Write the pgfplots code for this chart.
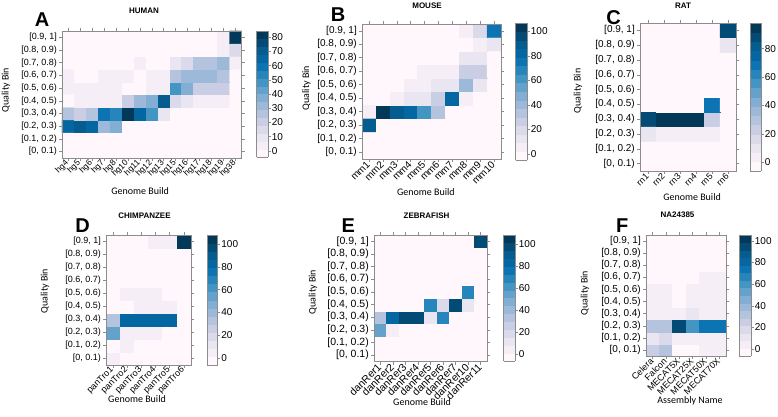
\documentclass[border=0pt]{standalone}
\usepackage{pgfplots}
\pgfplotsset{compat=1.18}
\usepackage{fontspec}
\setmainfont{Liberation Sans}
\newfontfamily\calib{Carlito}
\definecolor{frame}{RGB}{140,140,140}
\pgfplotsset{
  colorbar shift/.style={},
  colormap={pubu}{rgb255=(255,247,251) rgb255=(236,231,242) rgb255=(208,209,230) rgb255=(166,189,219) rgb255=(116,169,207) rgb255=(54,144,192) rgb255=(5,112,176) rgb255=(4,90,141) rgb255=(2,56,88)},
  colormap={pubud}{samples of colormap=(16 of pubu)},
  hm/.style={
    scale only axis, anchor=south west, enlargelimits=false,
    y dir=reverse,
    ymin=-0.5, ymax=9.5, ytick={0,...,9},
    yticklabels={{[0.9, 1]},{[0.8, 0.9)},{[0.7, 0.8)},{[0.6, 0.7)},{[0.5, 0.6)},{[0.4, 0.5)},{[0.3, 0.4)},{[0.2, 0.3)},{[0.1, 0.2)},{[0, 0.1)}},
    tick align=outside, major tick length=3pt,
    axis line style={frame, line width=0.6pt}, tick style={frame, line width=0.5pt},
    xticklabel style={rotate=45, anchor=east, inner sep=1pt},
    yticklabel style={inner sep=2pt},
    label style={font=\calib\fontsize{10}{12}\selectfont},
    ylabel style={anchor=center},
    xlabel style={anchor=center, yshift=1pt},
    colormap name=pubud, colormap access=piecewise constant,
    colorbar,
  },
  cbs/.style n args={5}{colorbar style={at={(parent axis.south east)}, anchor=south west, xshift=#1pt, yshift=#2pt, width=#3pt, height=#4pt, scale only axis, y dir=normal, ytick={#5}, ytick pos=right, yticklabel pos=right, tick align=outside, major tick length=2.5pt, axis line style={frame, line width=0.6pt}, tick style={frame, line width=0.5pt}, yticklabel style={font=\fontsize{10}{12}\selectfont, inner sep=1.2pt}, /pgf/number format/assume math mode=true}},
}
\begin{document}
\begin{tikzpicture}
\useasboundingbox (0,0) rectangle (778pt,417pt);
% ---------------- A: HUMAN   (y: 9 = [0,0.1) ... 0 = [0.9,1])
\begin{axis}[hm, at={(62pt,259pt)}, width=179.5pt, height=127pt,
  xmin=-0.5, xmax=14.5, xtick={0,...,14},
  xticklabels={hg4,hg5,hg6,hg7,hg8,hg10,hg11,hg12,hg13,hg15,hg16,hg17,hg18,hg19,hg38},
  tick label style={font=\fontsize{9}{10}\selectfont},
  xticklabel style={font=\fontsize{8.5}{10}\selectfont},
  xlabel={Genome Build}, ylabel={Quality Bin},
  xlabel style={at={(axis description cs:0.435,-0.268)}},
  ylabel style={at={(axis description cs:-0.312,0.535)}},
  point meta min=-4.4, point meta max=84.4,
  cbs={15}{1}{11.5}{126}{0,10,...,80}]
\addplot[matrix plot, mesh/cols=15, point meta=explicit] table[x=x,y=y,meta=c,row sep=\\]{
x y c\\
0 9 0\\ 1 9 0\\ 2 9 0\\ 3 9 0\\ 4 9 0\\ 5 9 0\\ 6 9 0\\ 7 9 0\\ 8 9 0\\ 9 9 0\\ 10 9 0\\ 11 9 0\\ 12 9 0\\ 13 9 0\\ 14 9 0\\
0 8 0\\ 1 8 0\\ 2 8 0\\ 3 8 0\\ 4 8 0\\ 5 8 0\\ 6 8 0\\ 7 8 0\\ 8 8 0\\ 9 8 0\\ 10 8 0\\ 11 8 0\\ 12 8 0\\ 13 8 0\\ 14 8 0\\
0 7 64\\ 1 7 73\\ 2 7 65\\ 3 7 30\\ 4 7 35\\ 5 7 0\\ 6 7 0\\ 7 7 0\\ 8 7 0\\ 9 7 0\\ 10 7 0\\ 11 7 0\\ 12 7 0\\ 13 7 0\\ 14 7 0\\
0 6 26\\ 1 6 20\\ 2 6 28\\ 3 6 62\\ 4 6 52\\ 5 6 82\\ 6 6 63\\ 7 6 48\\ 8 6 11\\ 9 6 0\\ 10 6 0\\ 11 6 0\\ 12 6 0\\ 13 6 0\\ 14 6 0\\
0 5 1\\ 1 5 3\\ 2 5 3\\ 3 5 3\\ 4 5 3\\ 5 5 20\\ 6 5 31\\ 7 5 37\\ 8 5 70\\ 9 5 15\\ 10 5 9\\ 11 5 5\\ 12 5 5\\ 13 5 5\\ 14 5 0\\
0 4 3\\ 1 4 3\\ 2 4 3\\ 3 4 3\\ 4 4 3\\ 5 4 1\\ 6 4 1\\ 7 4 3\\ 8 4 4\\ 9 4 47\\ 10 4 37\\ 11 4 23\\ 12 4 23\\ 13 4 23\\ 14 4 0\\
0 3 4\\ 1 3 1\\ 2 3 1\\ 3 3 3\\ 4 3 3\\ 5 3 3\\ 6 3 1\\ 7 3 5\\ 8 3 5\\ 9 3 24\\ 10 3 33\\ 11 3 33\\ 12 3 33\\ 13 3 24\\ 14 3 0\\
0 2 0\\ 1 2 0\\ 2 2 0\\ 3 2 0\\ 4 2 0\\ 5 2 0\\ 6 2 3\\ 7 2 0\\ 8 2 0\\ 9 2 9\\ 10 2 13\\ 11 2 24\\ 12 2 24\\ 13 2 29\\ 14 2 2\\
0 1 0\\ 1 1 0\\ 2 1 0\\ 3 1 0\\ 4 1 0\\ 5 1 0\\ 6 1 0\\ 7 1 0\\ 8 1 0\\ 9 1 0\\ 10 1 0\\ 11 1 0\\ 12 1 0\\ 13 1 3\\ 14 1 15\\
0 0 0\\ 1 0 0\\ 2 0 0\\ 3 0 0\\ 4 0 0\\ 5 0 0\\ 6 0 0\\ 7 0 0\\ 8 0 0\\ 9 0 0\\ 10 0 0\\ 11 0 0\\ 12 0 0\\ 13 0 3\\ 14 0 82\\
};
\end{axis}
% ---------------- B: MOUSE
\begin{axis}[hm, at={(362pt,258pt)}, width=139pt, height=135pt,
  xmin=-0.5, xmax=9.5, xtick={0,...,9},
  xticklabels={mm1,mm2,mm3,mm4,mm5,mm6,mm7,mm8,mm9,mm10},
  tick label style={font=\fontsize{10}{12}\selectfont},
  xlabel={Genome Build}, ylabel={Quality Bin},
  xlabel style={at={(axis description cs:0.46,-0.252)}},
  ylabel style={at={(axis description cs:-0.399,0.526)}},
  point meta min=-5.5, point meta max=107,
  cbs={14.5}{-1.5}{11.5}{137.5}{0,20,...,100}]
\addplot[matrix plot, mesh/cols=10, point meta=explicit] table[x=x,y=y,meta=c,row sep=\\]{
x y c\\
0 9 0\\ 1 9 0\\ 2 9 0\\ 3 9 0\\ 4 9 0\\ 5 9 0\\ 6 9 0\\ 7 9 0\\ 8 9 0\\ 9 9 0\\
0 8 0\\ 1 8 0\\ 2 8 0\\ 3 8 0\\ 4 8 0\\ 5 8 0\\ 6 8 0\\ 7 8 0\\ 8 8 0\\ 9 8 0\\
0 7 92\\ 1 7 0\\ 2 7 0\\ 3 7 0\\ 4 7 0\\ 5 7 0\\ 6 7 0\\ 7 7 0\\ 8 7 0\\ 9 7 0\\
0 6 3\\ 1 6 102\\ 2 6 92\\ 3 6 80\\ 4 6 62\\ 5 6 33\\ 6 6 0\\ 7 6 0\\ 8 6 0\\ 9 6 0\\
0 5 0\\ 1 5 0\\ 2 5 3\\ 3 5 13\\ 4 5 13\\ 5 5 27\\ 6 5 80\\ 7 5 3\\ 8 5 0\\ 9 5 0\\
0 4 0\\ 1 4 0\\ 2 4 0\\ 3 4 3\\ 4 4 7\\ 5 4 14\\ 6 4 14\\ 7 4 42\\ 8 4 10\\ 9 4 0\\
0 3 0\\ 1 3 0\\ 2 3 0\\ 3 3 0\\ 4 3 3\\ 5 3 3\\ 6 3 3\\ 7 3 25\\ 8 3 25\\ 9 3 0\\
0 2 0\\ 1 2 0\\ 2 2 0\\ 3 2 0\\ 4 2 0\\ 5 2 0\\ 6 2 0\\ 7 2 13\\ 8 2 13\\ 9 2 0\\
0 1 0\\ 1 1 0\\ 2 1 0\\ 3 1 0\\ 4 1 0\\ 5 1 0\\ 6 1 0\\ 7 1 0\\ 8 1 3\\ 9 1 12\\
0 0 0\\ 1 0 0\\ 2 0 0\\ 3 0 0\\ 4 0 0\\ 5 0 0\\ 6 0 0\\ 7 0 3\\ 8 0 18\\ 9 0 78\\
};
\end{axis}
% ---------------- C: RAT
\begin{axis}[hm, at={(640pt,246pt)}, width=96pt, height=148pt,
  xmin=-0.5, xmax=5.5, xtick={0,...,5},
  xticklabels={rn1,rn2,rn3,rn4,rn5,rn6},
  tick label style={font=\fontsize{10}{12}\selectfont},
  xticklabel style={font=\fontsize{9}{11}\selectfont},
  xlabel={Genome Build}, ylabel={Quality Bin},
  xlabel style={at={(axis description cs:0.542,-0.182)}},
  ylabel style={at={(axis description cs:-0.646,0.541)}},
  point meta min=-6, point meta max=98,
  cbs={14}{0}{11}{148}{0,20,...,80}]
\addplot[matrix plot, mesh/cols=6, point meta=explicit] table[x=x,y=y,meta=c,row sep=\\]{
x y c\\
0 9 0\\ 1 9 0\\ 2 9 0\\ 3 9 0\\ 4 9 0\\ 5 9 0\\
0 8 0\\ 1 8 0\\ 2 8 0\\ 3 8 0\\ 4 8 0\\ 5 8 0\\
0 7 12\\ 1 7 6\\ 2 7 6\\ 3 7 6\\ 4 7 3\\ 5 7 0\\
0 6 86\\ 1 6 97\\ 2 6 97\\ 3 6 97\\ 4 6 25\\ 5 6 0\\
0 5 0\\ 1 5 0\\ 2 5 0\\ 3 5 0\\ 4 5 68\\ 5 5 0\\
0 4 0\\ 1 4 0\\ 2 4 0\\ 3 4 0\\ 4 4 0\\ 5 4 0\\
0 3 0\\ 1 3 0\\ 2 3 0\\ 3 3 0\\ 4 3 0\\ 5 3 0\\
0 2 0\\ 1 2 0\\ 2 2 0\\ 3 2 0\\ 4 2 0\\ 5 2 0\\
0 1 0\\ 1 1 0\\ 2 1 0\\ 3 1 0\\ 4 1 0\\ 5 1 12\\
0 0 0\\ 1 0 0\\ 2 0 0\\ 3 0 0\\ 4 0 0\\ 5 0 85\\
};
\end{axis}
% ---------------- D: CHIMPANZEE
\begin{axis}[hm, at={(106pt,52pt)}, width=85pt, height=130pt,
  xmin=-0.5, xmax=5.5, xtick={0,...,5},
  xticklabels={panTro1,panTro2,panTro3,panTro4,panTro5,panTro6},
  tick label style={font=\fontsize{9}{11}\selectfont},
  xlabel={Genome Build}, ylabel={Quality Bin},
  xlabel style={at={(axis description cs:0.365,-0.269)}},
  ylabel style={at={(axis description cs:-0.718,0.569)}},
  point meta min=-6, point meta max=108,
  cbs={16}{0}{10.5}{130}{0,20,...,100}]
\addplot[matrix plot, mesh/cols=6, point meta=explicit] table[x=x,y=y,meta=c,row sep=\\]{
x y c\\
0 9 4\\ 1 9 0\\ 2 9 0\\ 3 9 0\\ 4 9 0\\ 5 9 0\\
0 8 0\\ 1 8 3\\ 2 8 0\\ 3 8 0\\ 4 8 0\\ 5 8 0\\
0 7 52\\ 1 7 7\\ 2 7 7\\ 3 7 7\\ 4 7 0\\ 5 7 0\\
0 6 35\\ 1 6 80\\ 2 6 80\\ 3 6 80\\ 4 6 86\\ 5 6 0\\
0 5 0\\ 1 5 0\\ 2 5 2\\ 3 5 2\\ 4 5 6\\ 5 5 0\\
0 4 0\\ 1 4 3\\ 2 4 7\\ 3 4 2\\ 4 4 0\\ 5 4 0\\
0 3 0\\ 1 3 0\\ 2 3 0\\ 3 3 0\\ 4 3 0\\ 5 3 0\\
0 2 0\\ 1 2 0\\ 2 2 0\\ 3 2 0\\ 4 2 0\\ 5 2 0\\
0 1 0\\ 1 1 0\\ 2 1 0\\ 3 1 0\\ 4 1 0\\ 5 1 0\\
0 0 0\\ 1 0 0\\ 2 0 0\\ 3 0 3\\ 4 0 3\\ 5 0 102\\
};
\end{axis}
% ---------------- E: ZEBRAFISH
\begin{axis}[hm, at={(374pt,55.5pt)}, width=113pt, height=126.5pt,
  xmin=-0.5, xmax=8.5, xtick={0,...,8},
  xticklabels={danRer1,danRer2,danRer3,danRer4,danRer5,danRer6,danRer7,danRer10,danRer11},
  tick label style={font=\fontsize{10.5}{12}\selectfont},
  xlabel={Genome Build}, ylabel={Quality Bin},
  xlabel style={at={(axis description cs:0.425,-0.33)}},
  ylabel style={at={(axis description cs:-0.54,0.549)}},
  point meta min=-6, point meta max=108,
  cbs={16.5}{0.5}{11.5}{126}{0,20,...,100}]
\addplot[matrix plot, mesh/cols=9, point meta=explicit] table[x=x,y=y,meta=c,row sep=\\]{
x y c\\
0 9 0\\ 1 9 0\\ 2 9 0\\ 3 9 0\\ 4 9 0\\ 5 9 0\\ 6 9 0\\ 7 9 0\\ 8 9 0\\
0 8 0\\ 1 8 0\\ 2 8 0\\ 3 8 0\\ 4 8 0\\ 5 8 0\\ 6 8 0\\ 7 8 0\\ 8 8 0\\
0 7 55\\ 1 7 6\\ 2 7 0\\ 3 7 0\\ 4 7 0\\ 5 7 0\\ 6 7 0\\ 7 7 0\\ 8 7 0\\
0 6 30\\ 1 6 85\\ 2 6 100\\ 3 6 100\\ 4 6 15\\ 5 6 72\\ 6 6 0\\ 7 6 0\\ 8 6 0\\
0 5 0\\ 1 5 0\\ 2 5 0\\ 3 5 0\\ 4 5 70\\ 5 5 18\\ 6 5 100\\ 7 5 12\\ 8 5 0\\
0 4 0\\ 1 4 0\\ 2 4 0\\ 3 4 0\\ 4 4 0\\ 5 4 0\\ 6 4 0\\ 7 4 70\\ 8 4 0\\
0 3 0\\ 1 3 0\\ 2 3 0\\ 3 3 0\\ 4 3 0\\ 5 3 0\\ 6 3 0\\ 7 3 0\\ 8 3 0\\
0 2 0\\ 1 2 0\\ 2 2 0\\ 3 2 0\\ 4 2 0\\ 5 2 0\\ 6 2 0\\ 7 2 0\\ 8 2 0\\
0 1 0\\ 1 1 0\\ 2 1 0\\ 3 1 0\\ 4 1 0\\ 5 1 0\\ 6 1 0\\ 7 1 0\\ 8 1 0\\
0 0 0\\ 1 0 0\\ 2 0 0\\ 3 0 0\\ 4 0 0\\ 5 0 0\\ 6 0 0\\ 7 0 0\\ 8 0 95\\
};
\end{axis}
% ---------------- F: NA24385
\begin{axis}[hm, at={(646pt,61pt)}, width=80pt, height=121pt,
  xmin=-0.5, xmax=5.5, xtick={0,...,5},
  xticklabels={Celera,Falcon,MECAT5X,MECAT25X,MECAT50X,MECAT70X},
  tick label style={font=\fontsize{10}{12}\selectfont},
  xticklabel style={font=\fontsize{9}{11}\selectfont},
  xlabel={Assembly Name}, ylabel={Quality Bin},
  xlabel style={at={(axis description cs:0.55,-0.38)}},
  ylabel style={at={(axis description cs:-0.7625,0.52)}},
  point meta min=-6.5, point meta max=105.5,
  cbs={13}{0}{12}{121}{0,20,...,100}]
\addplot[matrix plot, mesh/cols=6, point meta=explicit] table[x=x,y=y,meta=c,row sep=\\]{
x y c\\
0 9 25\\ 1 9 33\\ 2 9 0\\ 3 9 0\\ 4 9 6\\ 5 9 6\\
0 8 12\\ 1 8 18\\ 2 8 2\\ 3 8 2\\ 4 8 2\\ 5 8 2\\
0 7 35\\ 1 7 30\\ 2 7 98\\ 3 7 63\\ 4 7 72\\ 5 7 72\\
0 6 3\\ 1 6 3\\ 2 6 2\\ 3 6 12\\ 4 6 7\\ 5 6 7\\
0 5 3\\ 1 5 3\\ 2 5 0\\ 3 5 3\\ 4 5 3\\ 5 5 3\\
0 4 3\\ 1 4 3\\ 2 4 0\\ 3 4 3\\ 4 4 3\\ 5 4 3\\
0 3 0\\ 1 3 0\\ 2 3 0\\ 3 3 0\\ 4 3 3\\ 5 3 3\\
0 2 0\\ 1 2 0\\ 2 2 0\\ 3 2 0\\ 4 2 0\\ 5 2 0\\
0 1 0\\ 1 1 0\\ 2 1 0\\ 3 1 0\\ 4 1 0\\ 5 1 0\\
0 0 0\\ 1 0 0\\ 2 0 0\\ 3 0 0\\ 4 0 0\\ 5 0 0\\
};
\end{axis}
% ---------------- titles and panel letters
\begin{scope}[every node/.style={font=\bfseries\fontsize{8}{9}\selectfont, inner sep=0pt}]
\node at (144pt,406pt) {HUMAN};
\node at (427pt,411.5pt) {MOUSE};
\node at (683pt,411.5pt) {RAT};
\node at (144.5pt,201pt) {CHIMPANZEE};
\node at (426.5pt,201pt) {ZEBRAFISH};
\node at (677.5pt,202pt) {NA24385};
\end{scope}
\begin{scope}[every node/.style={font=\bfseries\fontsize{20}{24}\selectfont, inner sep=0pt}]
\node at (42pt,397pt) {A};
\node at (338pt,402pt) {B};
\node at (613.7pt,399pt) {C};
\node at (82.7pt,191.3pt) {D};
\node at (348.3pt,191.3pt) {E};
\node at (622.3pt,191.3pt) {F};
\end{scope}
\end{tikzpicture}
\end{document}
